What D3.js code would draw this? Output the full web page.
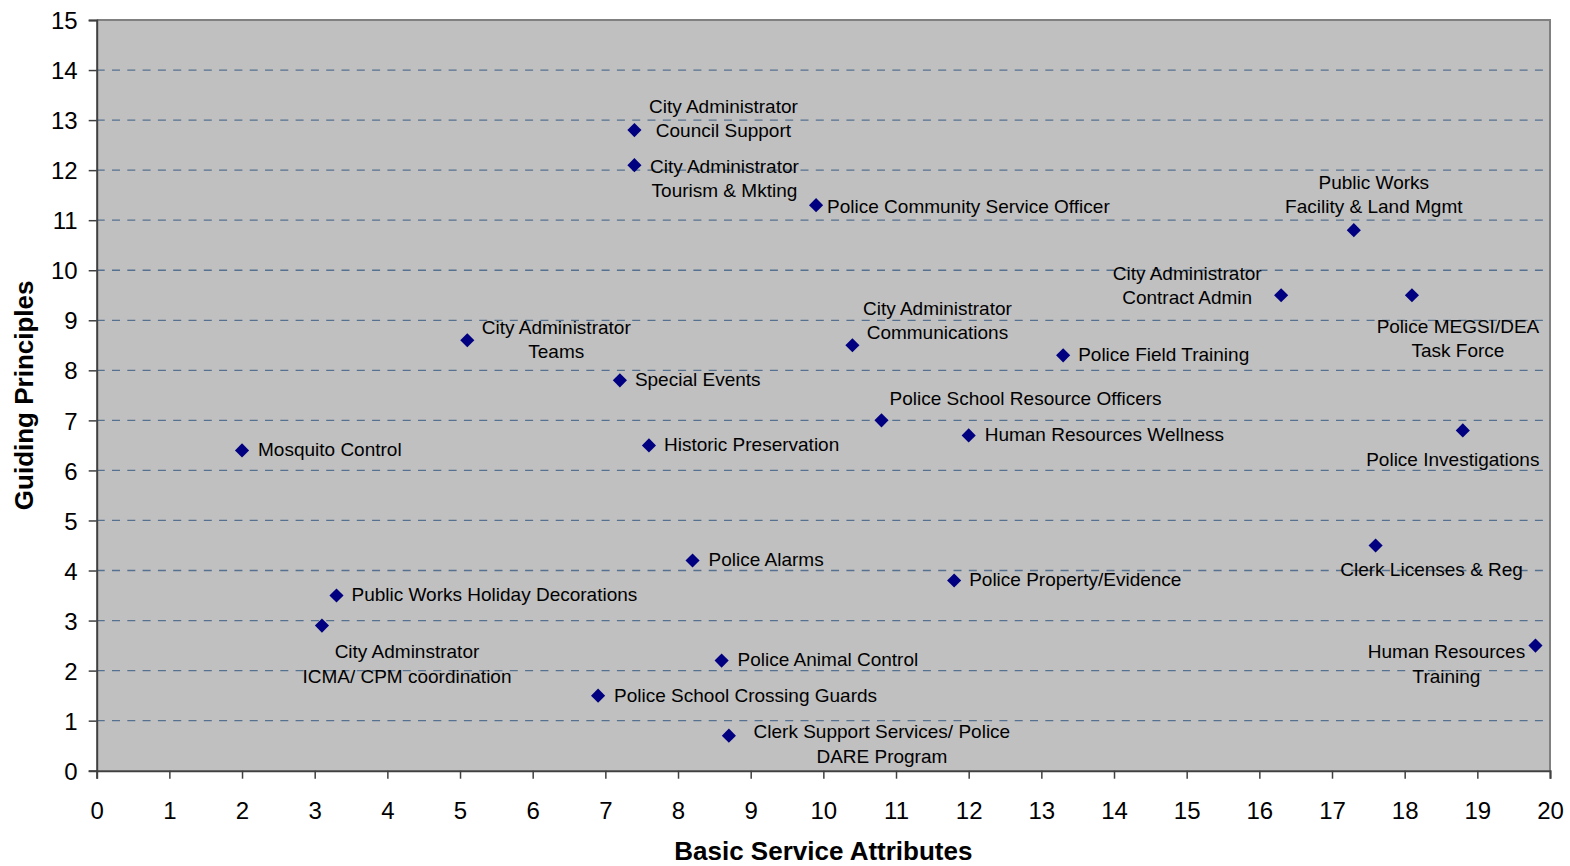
<!DOCTYPE html>
<html>
<head>
<meta charset="utf-8">
<script src="https://cdn.jsdelivr.net/npm/d3@7"></script>
<style>
  html, body { margin: 0; padding: 0; background: #ffffff; }
  svg { display: block; font-family: "Liberation Sans", Arial, sans-serif; }
</style>
</head>
<body>
<svg id="chart" width="1570" height="866"></svg>
<script>
// ---- data ----
const services = [
  "City Administrator\nCouncil Support",
  "City Administrator\nTourism & Mkting",
  "Police Community Service Officer",
  "Public Works\nFacility & Land Mgmt",
  "City Administrator\nContract Admin",
  "Police MEGSI/DEA\nTask Force",
  "City Administrator\nTeams",
  "City Administrator\nCommunications",
  "Police Field Training",
  "Special Events",
  "Police School Resource Officers",
  "Human Resources Wellness",
  "Police Investigations",
  "Mosquito Control",
  "Historic Preservation",
  "Clerk Licenses & Reg",
  "Police Alarms",
  "Police Property/Evidence",
  "Public Works Holiday Decorations",
  "City Adminstrator\nICMA/ CPM coordination",
  "Human Resources\nTraining",
  "Police Animal Control",
  "Police School Crossing Guards",
  "Clerk Support Services/ Police\nDARE Program"
];
const basicServiceAttributes = [7.4, 7.4, 9.9, 17.3, 16.3, 18.1, 5.1, 10.4, 13.3, 7.2, 10.8, 12.0, 18.8, 2.0, 7.6, 17.6, 8.2, 11.8, 3.3, 3.1, 19.8, 8.6, 6.9, 8.7];
const guidingPrinciples   = [12.8, 12.1, 11.3, 10.8, 9.5, 9.5, 8.6, 8.5, 8.3, 7.8, 7.0, 6.7, 6.8, 6.4, 6.5, 4.5, 4.2, 3.8, 3.5, 2.9, 2.5, 2.2, 1.5, 0.7];
const xTicks = d3.range(0, 21, 1);
const yTicks = d3.range(0, 16, 1);
const xTitle = "Basic Service Attributes";
const yTitle = "Guiding Principles";

// ---- label layout (offsets from the marker, in px) ----
const labelLayout = [
  { anchor: "middle", dx: 89,  dy: -24 },
  { anchor: "middle", dx: 90,  dy: 1 },
  { anchor: "start",  dx: 11,  dy: 1 },
  { anchor: "middle", dx: 20,  dy: -48 },
  { anchor: "middle", dx: -94, dy: -22 },
  { anchor: "middle", dx: 46,  dy: 31 },
  { anchor: "middle", dx: 89,  dy: -13 },
  { anchor: "middle", dx: 85,  dy: -37 },
  { anchor: "start",  dx: 15,  dy: -1 },
  { anchor: "start",  dx: 15,  dy: -1 },
  { anchor: "start",  dx: 8,   dy: -22 },
  { anchor: "start",  dx: 16,  dy: -1 },
  { anchor: "middle", dx: -10, dy: 29 },
  { anchor: "start",  dx: 16,  dy: -1 },
  { anchor: "start",  dx: 15,  dy: -1 },
  { anchor: "middle", dx: 56,  dy: 24 },
  { anchor: "start",  dx: 16,  dy: -1 },
  { anchor: "start",  dx: 15,  dy: -1 },
  { anchor: "start",  dx: 15,  dy: -1 },
  { anchor: "middle", dx: 85,  dy: 26 },
  { anchor: "middle", dx: -89, dy: 6 },
  { anchor: "start",  dx: 16,  dy: -1 },
  { anchor: "start",  dx: 16,  dy: 0 },
  { anchor: "middle", dx: 153, dy: -4 }
];

// ---- chart ----
const svg = d3.select("#chart");
const plot = { left: 96.7, right: 1550, top: 20, bottom: 770.7 };

const x = d3.scaleLinear().domain([0, 20]).range([plot.left, plot.right]);
const y = d3.scaleLinear().domain([0, 15]).range([plot.bottom, plot.top]);

// plot background
svg.append("rect")
  .attr("x", plot.left).attr("y", plot.top)
  .attr("width", plot.right - plot.left).attr("height", plot.bottom - plot.top)
  .attr("fill", "#c0c0c0");

// gridlines
svg.append("g").selectAll("line")
  .data(yTicks.filter(t => t > 0 && t < 15))
  .join("line")
  .attr("x1", plot.left).attr("x2", plot.right)
  .attr("y1", d => y(d)).attr("y2", d => y(d))
  .attr("stroke", "#56708f").attr("stroke-width", 1.3)
  .attr("stroke-dasharray", "8,7.3");

// plot border (top / right)
svg.append("path")
  .attr("d", `M${plot.left},${plot.top}H${plot.right}V${plot.bottom}`)
  .attr("fill", "none").attr("stroke", "#808080").attr("stroke-width", 2);

// axes
const xAxis = svg.append("g")
  .attr("transform", `translate(0,${plot.bottom})`)
  .call(d3.axisBottom(x).tickValues(xTicks).tickSize(8).tickPadding(23).tickFormat(d3.format("d")));
const yAxis = svg.append("g")
  .attr("transform", `translate(${plot.left},0)`)
  .call(d3.axisLeft(y).tickValues(yTicks).tickSize(8).tickPadding(11).tickFormat(d3.format("d")));

[xAxis, yAxis].forEach(a => {
  a.select(".domain").attr("stroke", "#404040").attr("stroke-width", 2);
  a.selectAll(".tick line").attr("stroke", "#404040").attr("stroke-width", 1.5);
  a.selectAll(".tick text")
    .attr("fill", "#000")
    .style("font-family", "'Liberation Sans', Arial, sans-serif")
    .style("font-size", "24px");
});
xAxis.selectAll(".tick text").attr("dy", "0.71em");
yAxis.selectAll(".tick text").attr("dy", "0.36em");

// axis titles
svg.append("text")
  .attr("x", (plot.left + plot.right) / 2).attr("y", 859.5)
  .attr("text-anchor", "middle")
  .style("font-size", "26px").style("font-weight", "bold")
  .text(xTitle);
svg.append("text")
  .attr("transform", `translate(32.5,${(plot.top + plot.bottom) / 2}) rotate(-90)`)
  .attr("text-anchor", "middle")
  .style("font-size", "26px").style("font-weight", "bold")
  .text(yTitle);

// points
const pts = services.map((s, i) => ({
  name: s, bx: basicServiceAttributes[i], gy: guidingPrinciples[i], lay: labelLayout[i]
}));

const sym = d3.symbol().type(d3.symbolSquare).size(100);
svg.append("g").selectAll("path")
  .data(pts)
  .join("path")
  .attr("d", sym)
  .attr("transform", d => `translate(${x(d.bx)},${y(d.gy)}) rotate(45)`)
  .attr("fill", "#000080");

// labels
const lineH = 24.5;
const lbl = svg.append("g").selectAll("text")
  .data(pts)
  .join("text")
  .attr("text-anchor", d => d.lay.anchor)
  .style("font-size", "19px")
  .attr("fill", "#000");
lbl.each(function(d) {
  const lines = d.name.split("\n");
  const t = d3.select(this);
  lines.forEach((ln, k) => {
    t.append("tspan")
      .attr("x", x(d.bx) + d.lay.dx)
      .attr("y", y(d.gy) + d.lay.dy + k * lineH)
      .attr("dy", "0.35em")
      .text(ln);
  });
});
</script>
</body>
</html>
